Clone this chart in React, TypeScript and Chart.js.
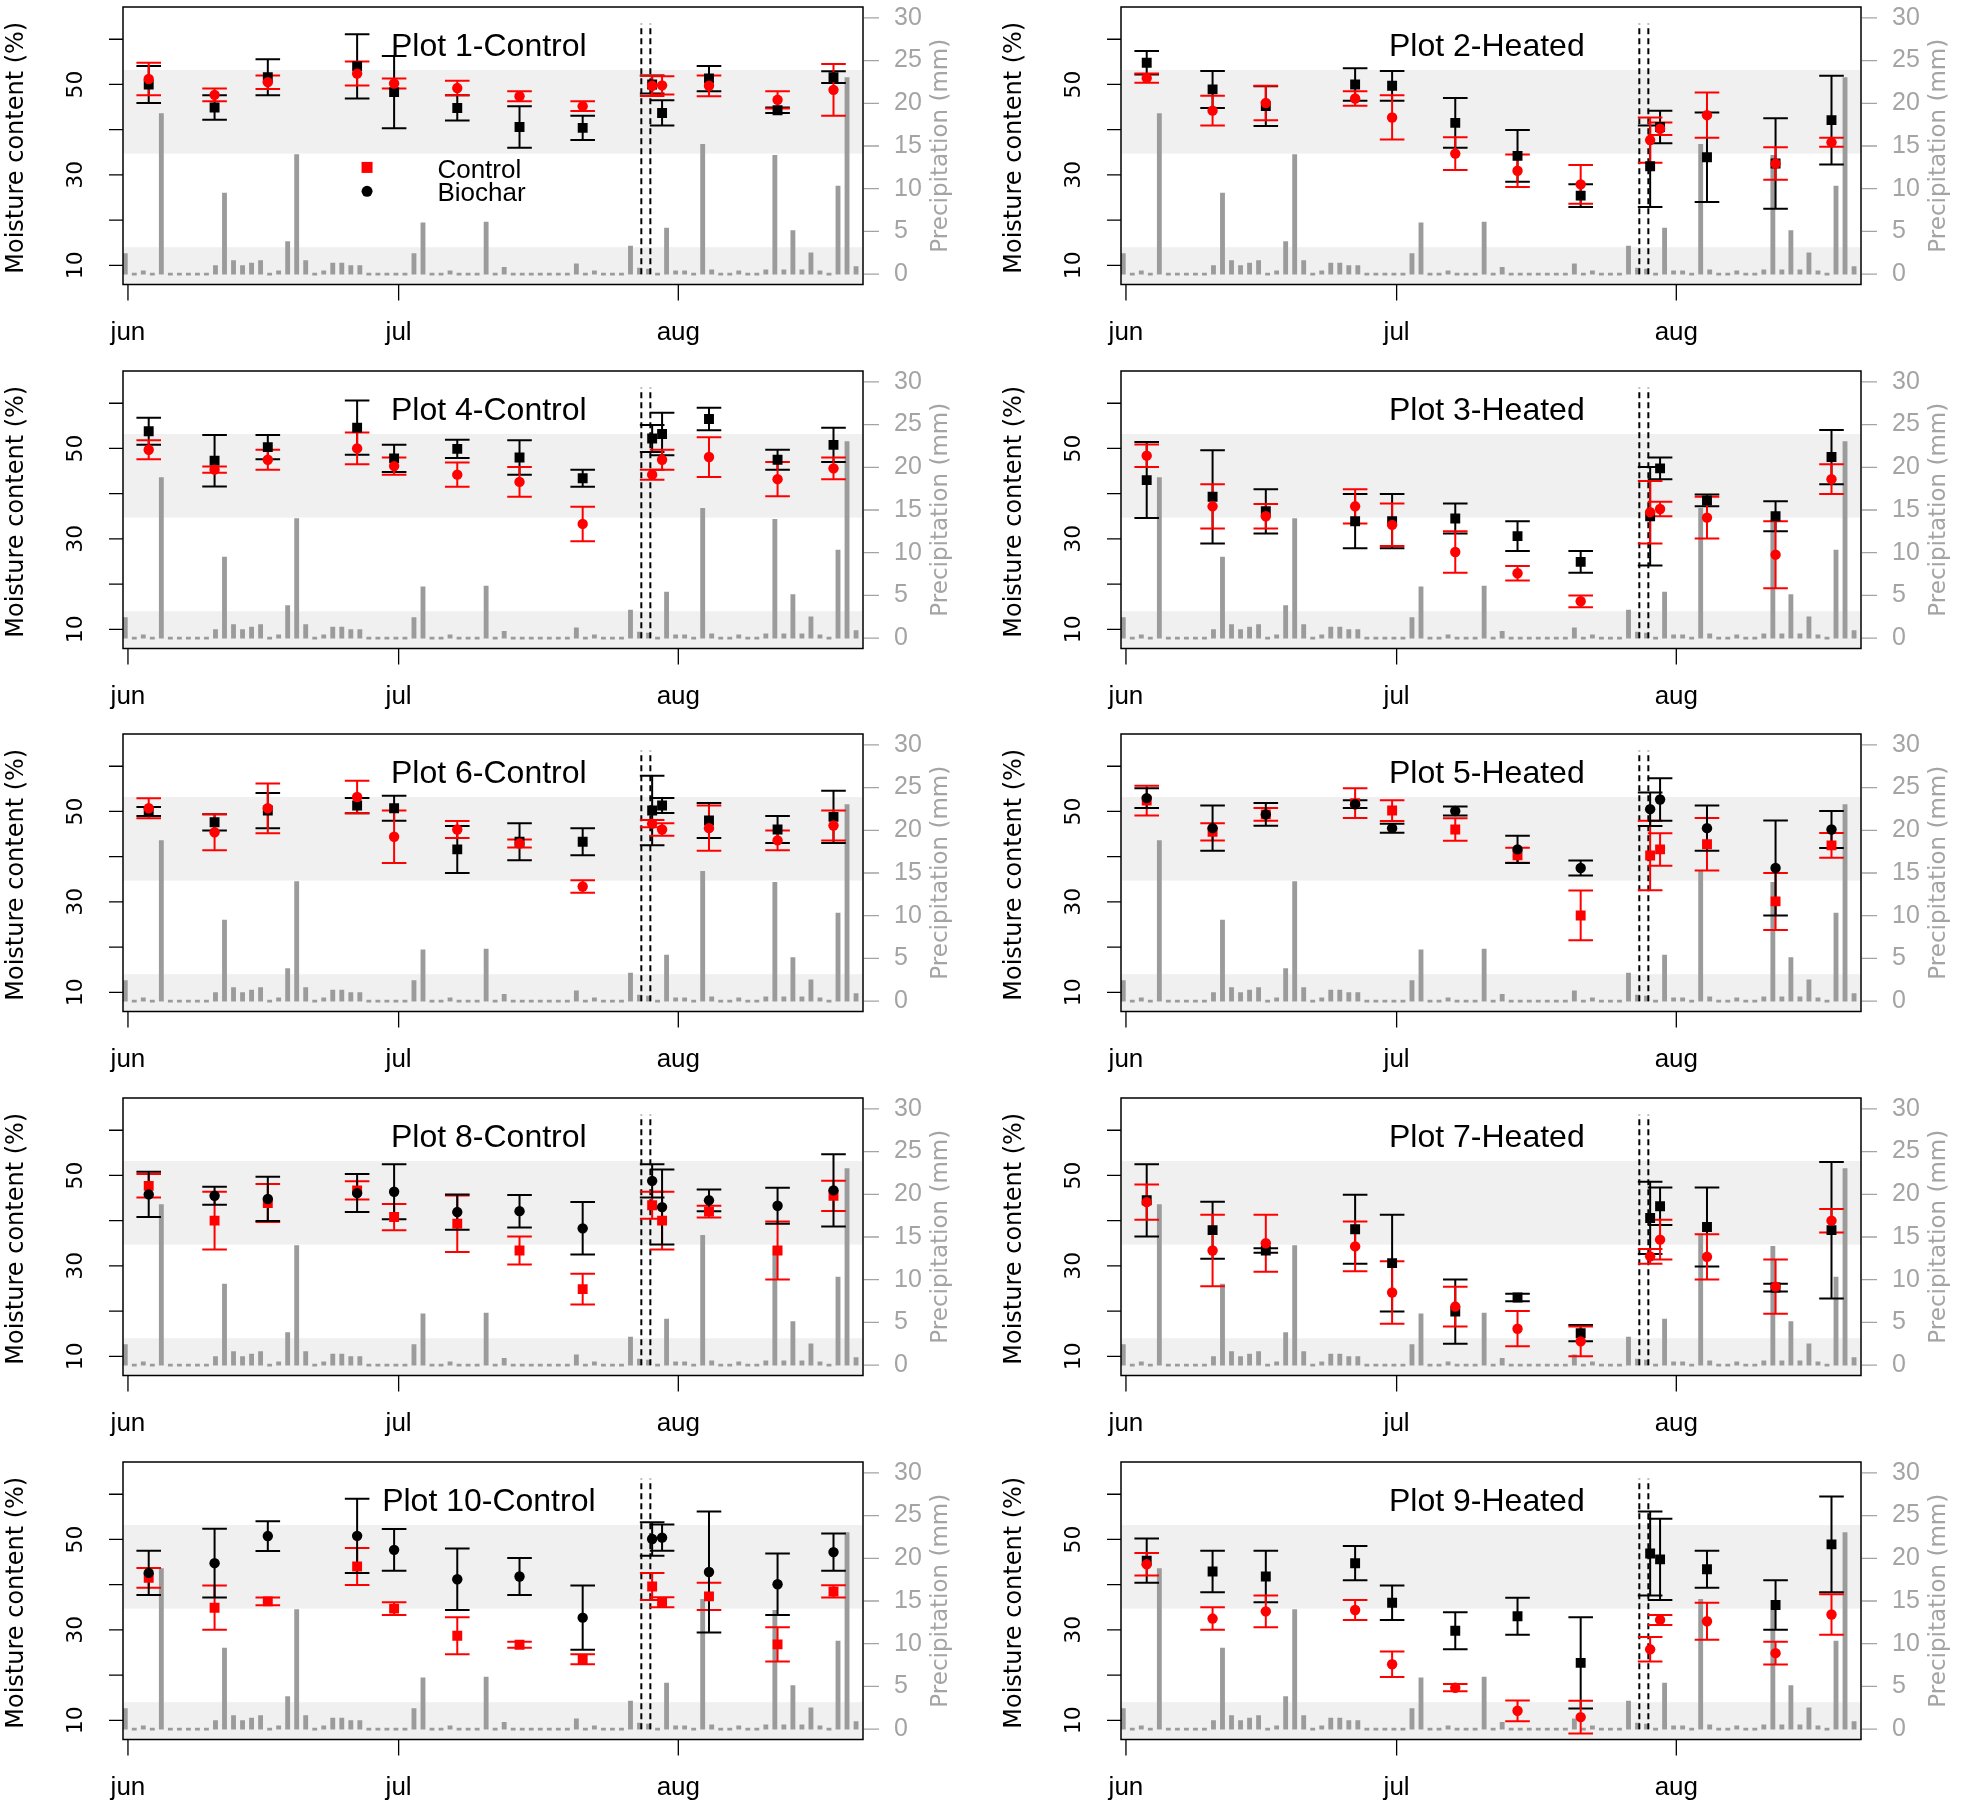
import React, { useEffect, useRef } from "react";
import { Chart, registerables } from "chart.js";

Chart.register(...registerables);

// ---------- shared data ----------
const sampleDays = [2.3, 9.6, 15.5, 25.4, 29.5, 36.5, 43.4, 50.4, 58.1, 59.2, 64.4, 72.0, 78.2];

// daily precipitation (mm), first day = precipStartDay
const precipStartDay = -0.3;
const precipitation = [
  2.4, 0, 0.4, 0, 18.8, 0, 0, 0, 0, 0,
  1.0, 9.5, 1.6, 1.0, 1.3, 1.6, 0, 0.4, 3.8, 14.0,
  1.6, 0, 0.4, 1.3, 1.3, 1.0, 1.0, 0, 0, 0,
  0, 0, 2.4, 6.0, 0, 0, 0.4, 0, 0, 0,
  6.1, 0, 0.8, 0, 0, 0, 0, 0, 0, 0,
  1.2, 0, 0.4, 0, 0, 0, 3.3, 0.7, 0.6, 0,
  5.4, 0.4, 0.4, 0, 15.2, 0.5, 0, 0, 0.4, 0,
  0, 0.5, 13.9, 0.5, 5.1, 0.5, 2.5, 0.4, 0, 10.3,
  23.0, 0.9,
];

const dashedLineDays = [56.9, 57.9];
const dashedLineTop = 29.3;
const monthTickDays = [0, 30, 61];
const monthTickLabels = ["jun", "jul", "aug"];
const moistureTicks = [10, 20, 30, 40, 50, 60];
const moistureTickLabels = ["10", "", "30", "", "50", ""];
const precipTicks = [0, 5, 10, 15, 20, 25, 30];
const upperBand = [34.7, 53.2];
const lowerBandTop = 14.0;
const legendLabels = ["Control", "Biochar"];

// ---------- per-plot data (black = Biochar, red = Control) ----------
const plot1Black = [50.0, 44.9, 51.6, 54.0, 48.3, 44.8, 40.6, 40.4, 50.0, 43.7, 51.3, 44.3, 51.6];
const plot1BlackErr = [4.1, 2.7, 4.0, 7.1, 8.0, 2.8, 4.6, 2.7, 2.0, 2.8, 2.8, 0.6, 1.3];
const plot1Red = [51.2, 47.7, 50.5, 52.4, 50.2, 49.2, 47.4, 45.2, 49.7, 49.8, 49.7, 46.6, 48.8];
const plot1RedErr = [3.6, 1.4, 1.5, 2.65, 1.1, 1.6, 1.1, 1.1, 2.25, 2.0, 2.3, 1.9, 5.7];

const plot2Black = [54.8, 48.9, 45.2, 50.0, 49.7, 41.5, 34.2, 25.4, 31.9, 40.6, 33.9, 32.5, 42.1];
const plot2BlackErr = [2.6, 4.1, 4.4, 3.6, 3.3, 5.5, 5.7, 2.5, 9.0, 3.6, 9.9, 10.0, 9.8];
const plot2Red = [51.4, 44.2, 45.9, 46.9, 42.7, 34.7, 30.9, 27.9, 37.7, 40.2, 43.2, 32.5, 37.2];
const plot2RedErr = [1.0, 3.3, 3.8, 1.6, 4.9, 3.6, 3.6, 4.3, 5.0, 1.4, 5.0, 3.6, 1.0];

const plot4Black = [53.8, 47.3, 50.3, 54.6, 47.8, 49.9, 48.0, 43.4, 52.2, 53.2, 56.5, 47.5, 50.8];
const plot4BlackErr = [3.0, 5.7, 2.7, 6.0, 3.0, 2.0, 3.8, 1.9, 3.0, 4.7, 2.5, 2.2, 3.8];
const plot4Red = [49.7, 45.3, 47.5, 50.0, 46.1, 44.2, 42.6, 33.3, 44.2, 47.5, 48.1, 43.2, 45.6];
const plot4RedErr = [2.1, 0.7, 2.2, 3.5, 1.9, 2.7, 3.3, 3.8, 1.1, 2.2, 4.4, 3.8, 2.4];

const plot3Black = [43.0, 39.3, 36.1, 33.9, 33.9, 34.5, 30.6, 24.9, 35.0, 45.6, 38.5, 35.0, 48.1];
const plot3BlackErr = [8.4, 10.3, 4.9, 6.0, 6.0, 3.3, 3.3, 2.4, 10.9, 2.4, 1.3, 3.3, 6.0];
const plot3Red = [48.4, 37.2, 35.0, 37.2, 33.1, 27.1, 22.4, 16.2, 35.9, 36.6, 34.7, 26.5, 43.2];
const plot3RedErr = [2.5, 4.9, 2.7, 3.8, 4.7, 4.6, 1.6, 1.3, 6.9, 1.6, 4.6, 7.4, 3.3];

const plot6Black = [50.0, 47.6, 50.2, 51.3, 50.7, 41.6, 43.3, 43.3, 50.2, 51.3, 48.0, 46.0, 48.8];
const plot6BlackErr = [1.0, 1.8, 3.9, 1.7, 2.75, 5.2, 4.1, 3.0, 7.7, 1.65, 3.85, 3.0, 5.8];
const plot6Red = [50.7, 45.4, 50.7, 53.2, 44.4, 46.0, 42.9, 33.4, 47.3, 46.0, 46.3, 43.6, 46.9];
const plot6RedErr = [2.2, 4.0, 5.5, 3.6, 5.8, 1.9, 0.9, 1.4, 0.8, 1.4, 5.0, 2.2, 3.3];

const plot5Black = [52.95, 46.3, 49.35, 51.6, 46.3, 50.1, 41.6, 37.5, 50.5, 52.65, 46.3, 37.5, 46.0];
const plot5BlackErr = [2.2, 5.0, 2.5, 0.85, 1.0, 1.0, 3.0, 1.65, 3.7, 4.7, 5.0, 10.5, 4.1];
const plot5Red = [52.4, 45.5, 49.35, 51.85, 50.2, 46.0, 40.3, 27.0, 40.25, 41.6, 42.75, 30.1, 42.5];
const plot5RedErr = [3.3, 1.9, 1.4, 3.3, 2.3, 2.5, 1.65, 5.5, 7.7, 3.6, 5.8, 6.3, 2.75];

const plot8Black = [45.8, 45.5, 44.8, 46.1, 46.4, 41.9, 42.1, 38.3, 48.8, 43.0, 44.5, 43.3, 46.7];
const plot8BlackErr = [5.0, 2.0, 4.9, 4.2, 6.1, 3.9, 3.6, 5.8, 3.7, 8.3, 2.4, 4.0, 8.0];
const plot8Red = [47.7, 40.0, 43.9, 46.7, 40.8, 39.3, 33.4, 24.85, 43.4, 40.0, 42.0, 33.4, 45.5];
const plot8RedErr = [2.6, 6.4, 4.2, 2.0, 2.9, 6.25, 3.1, 3.4, 3.0, 6.4, 1.3, 6.4, 3.35];

const plot7Black = [44.5, 37.9, 33.4, 38.1, 30.6, 19.9, 23.0, 15.1, 40.6, 43.2, 38.6, 25.2, 37.9];
const plot7BlackErr = [8.0, 6.3, 0.5, 7.65, 10.7, 7.1, 0.85, 1.8, 8.0, 4.15, 8.75, 0.85, 15.1];
const plot7Red = [44.1, 33.4, 35.0, 34.3, 24.1, 21.0, 16.1, 13.3, 32.1, 35.8, 32.0, 25.4, 40.0];
const plot7RedErr = [3.9, 7.9, 6.3, 5.5, 6.9, 4.4, 3.9, 3.3, 1.65, 4.4, 5.0, 6.0, 2.6];

const plot10Black = [42.6, 44.75, 50.75, 50.8, 47.7, 41.2, 41.8, 32.7, 50.1, 50.4, 42.8, 40.1, 47.2];
const plot10BlackErr = [4.9, 7.6, 3.3, 8.2, 4.6, 6.8, 4.1, 7.1, 3.7, 2.9, 13.4, 6.8, 4.1];
const plot10Red = [41.5, 34.9, 36.3, 44.0, 34.7, 28.7, 26.7, 23.5, 39.6, 36.1, 37.4, 26.8, 38.5];
const plot10RedErr = [2.2, 4.9, 0.85, 4.1, 1.4, 4.1, 0.65, 1.1, 3.0, 1.1, 3.0, 3.8, 1.35];

const plot9Black = [45.3, 42.9, 41.8, 44.75, 36.0, 29.8, 33.0, 22.7, 46.9, 45.6, 43.4, 35.5, 48.9];
const plot9BlackErr = [4.9, 4.6, 5.7, 3.8, 3.8, 4.1, 4.1, 10.1, 9.3, 9.0, 4.1, 5.5, 10.6];
const plot9Red = [44.5, 32.5, 34.1, 34.4, 22.4, 17.2, 12.1, 10.7, 25.7, 32.2, 31.9, 24.85, 33.4];
const plot9RedErr = [2.5, 2.5, 3.5, 2.2, 2.8, 0.8, 2.3, 3.6, 2.7, 1.1, 4.1, 2.5, 4.5];

const panels = [
  { title: "Plot 1-Control", black: plot1Black, blackErr: plot1BlackErr, red: plot1Red, redErr: plot1RedErr, blackSquare: true, legend: true },
  { title: "Plot 2-Heated", black: plot2Black, blackErr: plot2BlackErr, red: plot2Red, redErr: plot2RedErr, blackSquare: true, legend: false },
  { title: "Plot 4-Control", black: plot4Black, blackErr: plot4BlackErr, red: plot4Red, redErr: plot4RedErr, blackSquare: true, legend: false },
  { title: "Plot 3-Heated", black: plot3Black, blackErr: plot3BlackErr, red: plot3Red, redErr: plot3RedErr, blackSquare: true, legend: false },
  { title: "Plot 6-Control", black: plot6Black, blackErr: plot6BlackErr, red: plot6Red, redErr: plot6RedErr, blackSquare: true, legend: false },
  { title: "Plot 5-Heated", black: plot5Black, blackErr: plot5BlackErr, red: plot5Red, redErr: plot5RedErr, blackSquare: false, legend: false },
  { title: "Plot 8-Control", black: plot8Black, blackErr: plot8BlackErr, red: plot8Red, redErr: plot8RedErr, blackSquare: false, legend: false },
  { title: "Plot 7-Heated", black: plot7Black, blackErr: plot7BlackErr, red: plot7Red, redErr: plot7RedErr, blackSquare: true, legend: false },
  { title: "Plot 10-Control", black: plot10Black, blackErr: plot10BlackErr, red: plot10Red, redErr: plot10RedErr, blackSquare: false, legend: false },
  { title: "Plot 9-Heated", black: plot9Black, blackErr: plot9BlackErr, red: plot9Red, redErr: plot9RedErr, blackSquare: true, legend: false },
];

// ---------- layout / style ----------
const CANVAS_W = 963;
const CANVAS_H = 363;
const COL_X = [0, 998];
const ROW_Y = [0, 364, 727, 1091, 1455];
const RED = "#ff0000";
const BLACK = "#000000";
const GRAY_TEXT = "#a4a4a4";
const BAR_GRAY = "#9b9b9b";
const BAND = "#f0f0f0";
const SANS = "'Liberation Sans', Arial, sans-serif";
const WIDE = "'DejaVu Sans', Verdana, sans-serif";

function drawRotated(ctx: any, text: string, x: number, y: number) {
  ctx.save();
  ctx.translate(x, y);
  ctx.rotate(-Math.PI / 2);
  ctx.textAlign = "center";
  ctx.textBaseline = "middle";
  ctx.fillText(text, 0, 0);
  ctx.restore();
}

function drawErrorBars(ctx: any, xs: any, ys: any, vals: number[], errs: number[], color: string) {
  ctx.save();
  ctx.strokeStyle = color;
  ctx.lineWidth = 2;
  const cap = 12.3;
  for (let i = 0; i < sampleDays.length; i++) {
    const px = xs.getPixelForValue(sampleDays[i]);
    const top = ys.getPixelForValue(vals[i] + errs[i]);
    const bot = ys.getPixelForValue(vals[i] - errs[i]);
    ctx.beginPath();
    ctx.moveTo(px, top);
    ctx.lineTo(px, bot);
    ctx.moveTo(px - cap, top);
    ctx.lineTo(px + cap, top);
    ctx.moveTo(px - cap, bot);
    ctx.lineTo(px + cap, bot);
    ctx.stroke();
  }
  ctx.restore();
}

function Panel({ panel, left, top }: any) {
  const ref = useRef<HTMLCanvasElement>(null);

  useEffect(() => {
    const canvas = ref.current;
    if (!canvas) return;

    const blackSeries = { vals: panel.black, errs: panel.blackErr, color: BLACK };
    const redSeries = { vals: panel.red, errs: panel.redErr, color: RED };
    const squareSeries = panel.blackSquare ? blackSeries : redSeries;
    const circleSeries = panel.blackSquare ? redSeries : blackSeries;

    const decor = {
      id: "panelDecor",
      beforeDatasetsDraw(chart: any) {
        const { ctx, chartArea: a, scales } = chart;
        const y = scales.y;
        ctx.save();
        ctx.fillStyle = BAND;
        const t = y.getPixelForValue(upperBand[1]);
        const b = y.getPixelForValue(upperBand[0]);
        ctx.fillRect(a.left, t, a.right - a.left, b - t);
        const lt = y.getPixelForValue(lowerBandTop);
        ctx.fillRect(a.left, lt, a.right - a.left, a.bottom - lt);
        ctx.restore();
      },
      beforeDatasetDraw(chart: any, args: any) {
        if (args.index !== 3) return;
        const { ctx, scales } = chart;
        drawErrorBars(ctx, scales.x, scales.y, squareSeries.vals, squareSeries.errs, squareSeries.color);
        drawErrorBars(ctx, scales.x, scales.y, circleSeries.vals, circleSeries.errs, circleSeries.color);
      },
      afterDraw(chart: any) {
        const { ctx, chartArea: a, scales } = chart;
        const x = scales.x;
        const y = scales.y;
        const y2 = scales.y2;
        ctx.save();
        // box
        ctx.strokeStyle = BLACK;
        ctx.lineWidth = 1.5;
        ctx.strokeRect(a.left, a.top, a.right - a.left, a.bottom - a.top);

        // left axis ticks + labels
        ctx.lineWidth = 1.3;
        ctx.beginPath();
        moistureTicks.forEach((v) => {
          const py = y.getPixelForValue(v);
          ctx.moveTo(a.left, py);
          ctx.lineTo(a.left - 14, py);
        });
        ctx.stroke();
        ctx.fillStyle = BLACK;
        ctx.font = `22px ${WIDE}`;
        moistureTicks.forEach((v, i) => {
          if (moistureTickLabels[i]) drawRotated(ctx, moistureTickLabels[i], a.left - 47, y.getPixelForValue(v));
        });
        ctx.font = `24px ${WIDE}`;
        drawRotated(ctx, "Moisture content (%)", a.left - 106, (a.top + a.bottom) / 2 + 2);

        // bottom axis
        ctx.beginPath();
        monthTickDays.forEach((d) => {
          const px = x.getPixelForValue(d);
          ctx.moveTo(px, a.bottom);
          ctx.lineTo(px, a.bottom + 16);
        });
        ctx.stroke();
        ctx.font = `26px ${SANS}`;
        ctx.textAlign = "center";
        ctx.textBaseline = "alphabetic";
        monthTickDays.forEach((d, i) => {
          ctx.fillText(monthTickLabels[i], x.getPixelForValue(d), a.bottom + 55);
        });

        // right axis
        ctx.strokeStyle = GRAY_TEXT;
        ctx.beginPath();
        precipTicks.forEach((v) => {
          const py = y2.getPixelForValue(v);
          ctx.moveTo(a.right + 1, py);
          ctx.lineTo(a.right + 16, py);
        });
        ctx.stroke();
        ctx.fillStyle = GRAY_TEXT;
        ctx.font = `25px ${SANS}`;
        ctx.textAlign = "left";
        ctx.textBaseline = "middle";
        precipTicks.forEach((v) => {
          ctx.fillText(String(v), a.right + 31, y2.getPixelForValue(v));
        });
        ctx.font = `23px ${WIDE}`;
        drawRotated(ctx, "Precipitation (mm)", a.right + 78, (a.top + a.bottom) / 2);

        // title
        ctx.fillStyle = BLACK;
        ctx.font = `32px ${SANS}`;
        ctx.textAlign = "center";
        ctx.textBaseline = "alphabetic";
        ctx.fillText(panel.title, x.getPixelForValue(40.0), y.getPixelForValue(56.4));

        // legend
        if (panel.legend) {
          const mx = x.getPixelForValue(26.5);
          const tx = x.getPixelForValue(34.3);
          const my1 = y.getPixelForValue(31.65);
          const my2 = y.getPixelForValue(26.35);
          ctx.fillStyle = RED;
          ctx.fillRect(mx - 5.5, my1 - 5.5, 11, 11);
          ctx.fillStyle = BLACK;
          ctx.beginPath();
          ctx.arc(mx, my2, 5.5, 0, Math.PI * 2);
          ctx.fill();
          ctx.font = `26px ${SANS}`;
          ctx.textAlign = "left";
          ctx.textBaseline = "middle";
          ctx.fillText(legendLabels[0], tx, y.getPixelForValue(30.8));
          ctx.fillText(legendLabels[1], tx, y.getPixelForValue(25.9));
        }
        ctx.restore();
      },
    };

    const pts = (vals: number[]) => sampleDays.map((d, i) => ({ x: d, y: vals[i] }));

    const chart = new Chart(canvas, {
      type: "bar",
      data: {
        datasets: [
          {
            type: "bar",
            label: "Precipitation",
            data: precipitation.map((v, i) => ({ x: precipStartDay + i, y: v })),
            yAxisID: "y2",
            backgroundColor: BAR_GRAY,
            borderWidth: 0,
            barThickness: 4.2,
            minBarLength: 2.2,
            grouped: false,
            order: 10,
          } as any,
          {
            type: "line",
            data: [{ x: dashedLineDays[0], y: 0 }, { x: dashedLineDays[0], y: dashedLineTop }],
            yAxisID: "y2",
            borderColor: BLACK,
            borderWidth: 2,
            borderDash: [6, 4],
            pointRadius: 0,
            fill: false,
            order: 9,
          } as any,
          {
            type: "line",
            data: [{ x: dashedLineDays[1], y: 0 }, { x: dashedLineDays[1], y: dashedLineTop }],
            yAxisID: "y2",
            borderColor: BLACK,
            borderWidth: 2,
            borderDash: [6, 4],
            pointRadius: 0,
            fill: false,
            order: 8,
          } as any,
          {
            type: "scatter",
            data: pts(squareSeries.vals),
            yAxisID: "y",
            pointStyle: "rect",
            pointRadius: 7,
            backgroundColor: squareSeries.color,
            borderColor: squareSeries.color,
            borderWidth: 0,
            order: 2,
          } as any,
          {
            type: "scatter",
            data: pts(circleSeries.vals),
            yAxisID: "y",
            pointStyle: "circle",
            pointRadius: 5.2,
            backgroundColor: circleSeries.color,
            borderColor: circleSeries.color,
            borderWidth: 0,
            order: 1,
          } as any,
        ],
      },
      options: {
        responsive: false,
        animation: false,
        devicePixelRatio: 1,
        events: [],
        layout: { padding: { left: 123, right: 100, top: 3, bottom: 78.5 } },
        plugins: { legend: { display: false }, tooltip: { enabled: false }, title: { display: false } },
        scales: {
          x: { type: "linear", min: -0.55, max: 81.47, display: false, offset: false },
          y: { type: "linear", min: 5.75, max: 67.13, display: false },
          y2: { type: "linear", min: -1.21, max: 31.27, display: false, position: "right" },
        },
      } as any,
      plugins: [decor],
    } as any);

    return () => chart.destroy();
  }, [panel]);

  return (
    <canvas
      ref={ref}
      width={CANVAS_W}
      height={CANVAS_H}
      style={{ position: "absolute", left, top, display: "block", width: CANVAS_W, height: CANVAS_H }}
    />
  );
}

export default function App() {
  useEffect(() => {
    document.body.style.margin = "0";
    document.body.style.overflow = "hidden";
  }, []);
  return (
    <div
      style={{
        position: "absolute",
        left: 0,
        top: 0,
        width: 1961,
        height: 1807,
        overflow: "hidden",
        background: "#ffffff",
      }}
    >
      {panels.map((p, i) => (
        <Panel key={p.title} panel={p} left={COL_X[i % 2]} top={ROW_Y[Math.floor(i / 2)]} />
      ))}
    </div>
  );
}
